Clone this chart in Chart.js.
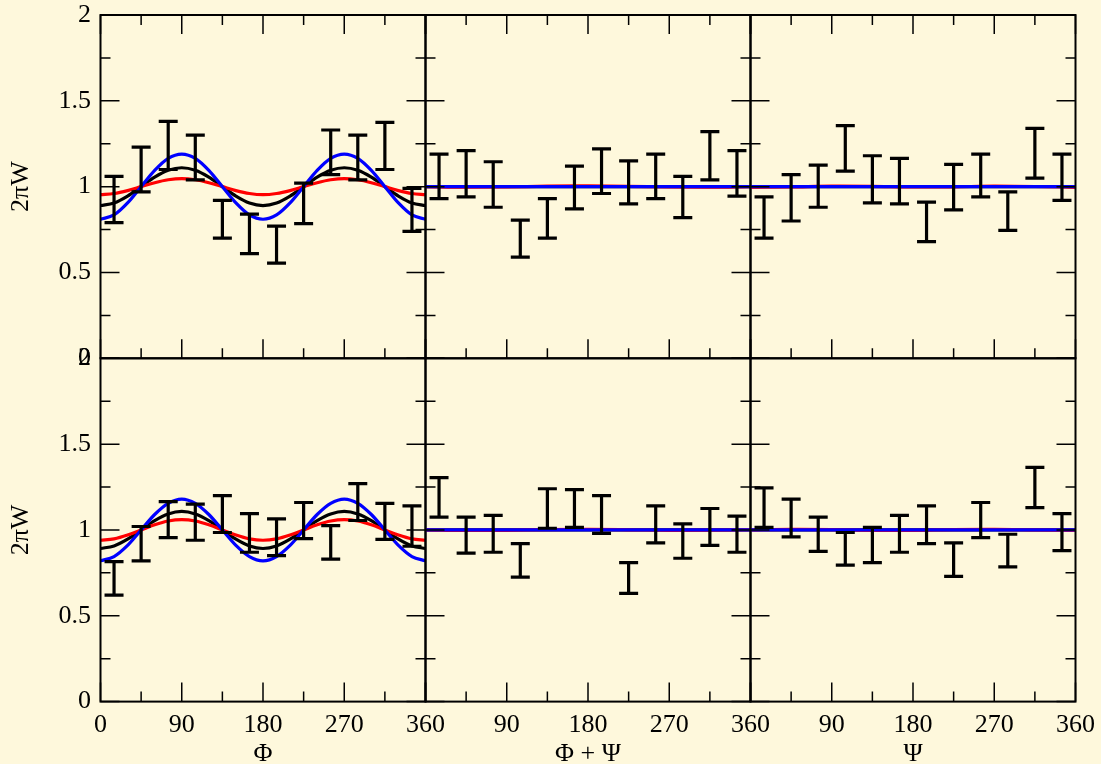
<!DOCTYPE html>
<html>
<head>
<meta charset="utf-8">
<script src="https://cdn.jsdelivr.net/npm/chart.js@4.4.1/dist/chart.umd.min.js"></script>
<style>
  body { margin: 0; background: #fef8dc; }
  #wrap { position: relative; width: 1101px; height: 764px; }
  #wrap canvas { position: absolute; left: 0; top: 0; }
</style>
</head>
<body>
<div id="wrap"></div>
<script>
// histogram bins (degrees) and axis ticks, shared by every panel
const binCentres = [15, 45, 75, 105, 135, 165, 195, 225, 255, 285, 315, 345];
const xTicks = [0, 90, 180, 270, 360];
const xMinor = [45, 135, 225, 315];
const yTicks = [0, 0.5, 1, 1.5, 2];
const yMinor = [0.25, 0.75, 1.25, 1.75];
const xTitles = ['Φ', 'Φ + Ψ', 'Ψ'];
const yTitle = '2πW';

// error bar ranges (low / high), top row
const phiTopLo = [0.79, 0.97, 1.10, 1.04, 0.70, 0.61, 0.555, 0.785, 1.07, 1.04, 1.10, 0.74];
const phiTopHi = [1.06, 1.23, 1.38, 1.30, 0.92, 0.84, 0.77, 1.02, 1.33, 1.30, 1.375, 0.99];
const sumTopLo = [0.93, 0.94, 0.88, 0.59, 0.70, 0.87, 0.96, 0.90, 0.93, 0.82, 1.04, 0.945];
const sumTopHi = [1.19, 1.21, 1.145, 0.805, 0.93, 1.12, 1.22, 1.15, 1.19, 1.06, 1.32, 1.21];
const psiTopLo = [0.70, 0.80, 0.88, 1.09, 0.905, 0.90, 0.68, 0.865, 0.94, 0.745, 1.05, 0.92];
const psiTopHi = [0.94, 1.07, 1.125, 1.355, 1.18, 1.165, 0.91, 1.13, 1.19, 0.97, 1.34, 1.19];

// error bar ranges, bottom row
const phiBotLo = [0.62, 0.82, 0.955, 0.94, 0.985, 0.87, 0.85, 0.95, 0.83, 1.055, 0.945, 0.905];
const phiBotHi = [0.815, 1.02, 1.165, 1.15, 1.20, 1.095, 1.065, 1.16, 1.025, 1.27, 1.155, 1.14];
const sumBotLo = [1.075, 0.865, 0.87, 0.725, 1.01, 1.015, 0.98, 0.63, 0.925, 0.835, 0.91, 0.87];
const sumBotHi = [1.305, 1.075, 1.085, 0.92, 1.24, 1.235, 1.20, 0.81, 1.14, 1.035, 1.125, 1.08];
const psiBotLo = [1.015, 0.96, 0.875, 0.795, 0.81, 0.87, 0.92, 0.73, 0.955, 0.785, 1.13, 0.88];
const psiBotHi = [1.245, 1.18, 1.075, 0.985, 1.015, 1.085, 1.14, 0.925, 1.16, 0.975, 1.365, 1.095];

// model curves for Φ, sampled every 15 degrees
const fineX = [0, 15, 30, 45, 60, 75, 90, 105, 120, 135, 150, 165, 180,
               195, 210, 225, 240, 255, 270, 285, 300, 315, 330, 345, 360];
const phiTopBlue  = [0.81, 0.835, 0.905, 1.0, 1.095, 1.165, 1.19, 1.165, 1.095, 1.0, 0.905, 0.835, 0.81,
                     0.835, 0.905, 1.0, 1.095, 1.165, 1.19, 1.165, 1.095, 1.0, 0.905, 0.835, 0.81];
const phiTopBlack = [0.89, 0.905, 0.945, 1.0, 1.055, 1.095, 1.11, 1.095, 1.055, 1.0, 0.945, 0.905, 0.89,
                     0.905, 0.945, 1.0, 1.055, 1.095, 1.11, 1.095, 1.055, 1.0, 0.945, 0.905, 0.89];
const phiTopRed   = [0.953, 0.96, 0.977, 1.0, 1.023, 1.04, 1.047, 1.04, 1.023, 1.0, 0.977, 0.96, 0.953,
                     0.96, 0.977, 1.0, 1.023, 1.04, 1.047, 1.04, 1.023, 1.0, 0.977, 0.96, 0.953];
const phiBotBlue  = [0.82, 0.845, 0.91, 1.0, 1.09, 1.155, 1.18, 1.155, 1.09, 1.0, 0.91, 0.845, 0.82,
                     0.845, 0.91, 1.0, 1.09, 1.155, 1.18, 1.155, 1.09, 1.0, 0.91, 0.845, 0.82];
const phiBotBlack = [0.892, 0.907, 0.946, 1.0, 1.054, 1.093, 1.108, 1.093, 1.054, 1.0, 0.946, 0.907, 0.892,
                     0.907, 0.946, 1.0, 1.054, 1.093, 1.108, 1.093, 1.054, 1.0, 0.946, 0.907, 0.892];
const phiBotRed   = [0.94, 0.948, 0.97, 1.0, 1.03, 1.052, 1.06, 1.052, 1.03, 1.0, 0.97, 0.948, 0.94,
                     0.948, 0.97, 1.0, 1.03, 1.052, 1.06, 1.052, 1.03, 1.0, 0.97, 0.948, 0.94];

// Φ+Ψ and Ψ curves are nearly flat, sampled every 45 degrees
const coarseX = [0, 45, 90, 135, 180, 225, 270, 315, 360];
const flatBlue  = [1, 1, 1, 1, 1, 1, 1, 1, 1];
const flatBlack = [1, 1, 1, 1, 1, 1, 1, 1, 1];
const sumTopRed = [1.0, 0.997, 0.998, 1.003, 1.004, 1.002, 0.998, 0.997, 1.0];
const psiTopRed = [0.996, 0.998, 1.003, 1.002, 0.998, 0.999, 1.003, 1.001, 0.996];
const sumBotRed = [1.0, 0.997, 0.998, 1.002, 1.003, 1.001, 0.998, 0.999, 1.002];
const psiBotRed = [1.0, 1.003, 1.002, 0.998, 0.998, 1.002, 1.003, 1.0, 0.997];

const W = 1101, H = 764;
const colEdges = [100.5, 425.5, 750.5, 1075.5];
const rowEdges = [15, 358.3, 701.6];

Chart.defaults.font.family = "'Liberation Serif', 'Times New Roman', serif";
Chart.defaults.color = '#000';

const panels = [
  { row: 0, col: 0, lo: phiTopLo, hi: phiTopHi, cx: fineX, blue: phiTopBlue, black: phiTopBlack, red: phiTopRed },
  { row: 0, col: 1, lo: sumTopLo, hi: sumTopHi, cx: coarseX, blue: flatBlue, black: flatBlack, red: sumTopRed },
  { row: 0, col: 2, lo: psiTopLo, hi: psiTopHi, cx: coarseX, blue: flatBlue, black: flatBlack, red: psiTopRed },
  { row: 1, col: 0, lo: phiBotLo, hi: phiBotHi, cx: fineX, blue: phiBotBlue, black: phiBotBlack, red: phiBotRed },
  { row: 1, col: 1, lo: sumBotLo, hi: sumBotHi, cx: coarseX, blue: flatBlue, black: flatBlack, red: sumBotRed },
  { row: 1, col: 2, lo: psiBotLo, hi: psiBotHi, cx: coarseX, blue: flatBlue, black: flatBlack, red: psiBotRed }
];

// box around each panel with inward major/minor ticks
const panelFrame = {
  id: 'panelFrame',
  afterDatasetsDraw(chart, args, opts) {
    const { ctx, chartArea: a, scales: { x, y } } = chart;
    ctx.save();
    ctx.strokeStyle = '#000';
    ctx.lineWidth = 1.5;
    ctx.beginPath();
    const xMark = (v, len) => {
      const px = x.getPixelForValue(v);
      ctx.moveTo(px, a.bottom); ctx.lineTo(px, a.bottom - len);
      if (opts.topTicks) { ctx.moveTo(px, a.top); ctx.lineTo(px, a.top + len); }
    };
    const yMark = (v, len) => {
      const py = y.getPixelForValue(v);
      ctx.moveTo(a.left, py); ctx.lineTo(a.left + len, py);
      ctx.moveTo(a.right, py); ctx.lineTo(a.right - len, py);
    };
    xTicks.forEach(v => xMark(v, 19));
    xMinor.forEach(v => xMark(v, 10));
    yTicks.forEach(v => yMark(v, 19));
    yMinor.forEach(v => yMark(v, 10));
    ctx.stroke();
    ctx.lineWidth = 2;
    ctx.strokeRect(a.left, a.top, a.right - a.left, a.bottom - a.top);
    ctx.restore();
  }
};

const wrap = document.getElementById('wrap');

panels.forEach(p => {
  const canvas = document.createElement('canvas');
  canvas.width = W;
  canvas.height = H;
  wrap.appendChild(canvas);

  const left = colEdges[p.col], right = colEdges[p.col + 1];
  const top = rowEdges[p.row], bottom = rowEdges[p.row + 1];
  const showY = p.col === 0;
  const showX = p.row === 1;

  const stems = [];
  const caps = [];
  binCentres.forEach((x, i) => {
    stems.push({ x, y: p.lo[i] }, { x, y: p.hi[i] }, { x, y: null });
    caps.push({ x, y: p.lo[i] }, { x, y: p.hi[i] });
  });
  const curve = ys => p.cx.map((x, i) => ({ x, y: ys[i] }));
  const line = (ys, color, order) => ({
    data: curve(ys), showLine: true, borderColor: color, borderWidth: 3.2,
    pointRadius: 0, cubicInterpolationMode: 'monotone', order
  });

  new Chart(canvas, {
    type: 'scatter',
    data: {
      datasets: [
        { data: caps, pointStyle: 'line', pointRadius: 9.5, pointBorderWidth: 3.2,
          pointBorderColor: '#000', borderColor: '#000', order: 0 },
        { data: stems, showLine: true, spanGaps: false, borderColor: '#000',
          borderWidth: 3.2, pointRadius: 0, order: 1 },
        line(p.blue, '#0000ff', 2),
        line(p.red, '#ff0000', 3),
        line(p.black, '#000000', 4)
      ]
    },
    options: {
      responsive: false,
      animation: false,
      events: [],
      layout: {
        padding: {
          left: showY ? 0 : left,
          right: W - right,
          top: top,
          bottom: showX ? 0 : H - bottom
        }
      },
      plugins: {
        legend: { display: false },
        tooltip: { enabled: false },
        panelFrame: { topTicks: p.row === 0 }
      },
      scales: {
        x: {
          type: 'linear', min: 0, max: 360, display: showX,
          grid: { display: false, drawTicks: false }, border: { display: false },
          ticks: {
            stepSize: 90, autoSkip: false, maxRotation: 0, padding: 11,
            font: { size: 26, lineHeight: 1 },
            callback: v => (p.col > 0 && v === 0) ? '' : String(v)
          },
          title: { display: true, text: xTitles[p.col], font: { size: 26, lineHeight: 0.77 }, padding: 0 },
          afterFit: s => {
            // labels may overhang the panel edges; keep the plot box fixed
            s.paddingLeft = 0;
            s.paddingRight = 0;
            if (showX) s.height = H - bottom;
          }
        },
        y: {
          type: 'linear', min: 0, max: 2, display: showY,
          grid: { display: false, drawTicks: false }, border: { display: false },
          ticks: {
            stepSize: 0.5, autoSkip: false, padding: 9.5,
            font: { size: 26, lineHeight: 1 },
            callback: v => String(v)
          },
          title: { display: true, text: yTitle, font: { size: 26 }, padding: { top: 6, bottom: 0 } },
          afterFit: s => {
            s.paddingTop = 0;
            s.paddingBottom = 0;
            if (showY) s.width = left;
          }
        }
      }
    },
    plugins: [panelFrame]
  });
});
</script>
</body>
</html>
